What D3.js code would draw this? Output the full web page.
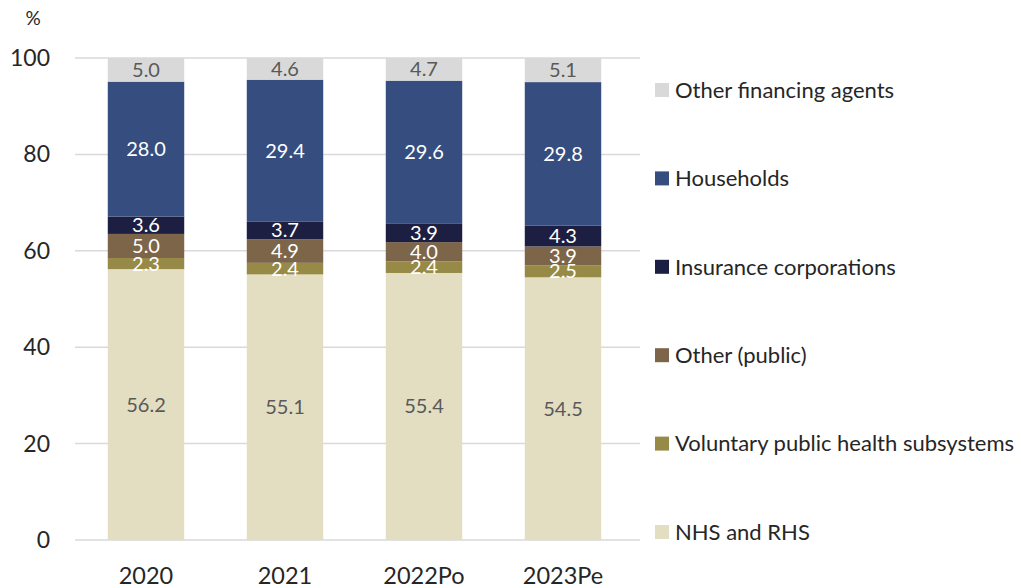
<!DOCTYPE html>
<html><head><meta charset="utf-8">
<script src="https://cdn.jsdelivr.net/npm/d3@7"></script>
<style>body{margin:0;background:#fff}svg text{font-family:Lato,"Open Sans",sans-serif}</style>
</head><body><svg id="c" width="1021" height="588"></svg>
<script>
const categories = ["2020","2021","2022Po","2023Pe"];
const seriesNames = ["NHS and RHS","Voluntary public health subsystems","Other (public)","Insurance corporations","Households","Other financing agents"];
const nhs = [56.2,55.1,55.4,54.5];
const voluntary = [2.3,2.4,2.4,2.5];
const otherPublic = [5.0,4.9,4.0,3.9];
const insurance = [3.6,3.7,3.9,4.3];
const households = [28.0,29.4,29.6,29.8];
const otherFin = [5.0,4.6,4.7,5.1];
const yTicks = [0,20,40,60,80,100];

const seriesValues = [nhs,voluntary,otherPublic,insurance,households,otherFin];
const colors = ["#e3dec1","#978a46","#7d6549","#1c1f42","#364d80","#d9d9d9"];
const labelColors = ["#595959","#ffffff","#ffffff","#ffffff","#ffffff","#595959"];

const svg = d3.select("#c");
const x = d3.scaleBand().domain(categories).range([76.5,632.5]).paddingInner(0.45).paddingOuter(0.225);
const y = d3.scaleLinear().domain([0,100]).range([540,58]);

// gridlines
svg.append("g").selectAll("line").data(yTicks).join("line")
  .attr("x1",75).attr("x2",640).attr("y1",d=>y(d)).attr("y2",d=>y(d))
  .attr("stroke","#d9d9d9").attr("stroke-width",1.5);

// y tick labels
svg.append("g").selectAll("text").data(yTicks).join("text")
  .attr("x",50).attr("y",d=>y(d)).attr("dy","0.35em").attr("text-anchor","end")
  .attr("font-size",23).attr("fill","#262626").text(d=>d);
svg.append("text").attr("x",33).attr("y",18).attr("dy","0.35em").attr("text-anchor","middle")
  .attr("font-size",19).attr("fill","#262626").text("%");

// stack
const rows = categories.map((c,i)=>{const o={cat:c}; seriesNames.forEach((s,j)=>o[s]=seriesValues[j][i]); return o;});
const stack = d3.stack().keys(seriesNames)(rows);

const g = svg.append("g");
stack.forEach((layer,j)=>{
  const lg = g.append("g");
  lg.selectAll("rect").data(layer).join("rect")
    .attr("x",d=>x(d.data.cat)).attr("width",x.bandwidth())
    .attr("y",d=>y(Math.min(d[1],100))).attr("height",d=>y(d[0])-y(Math.min(d[1],100)))
    .attr("fill",colors[j]);
});
stack.forEach((layer,j)=>{
  g.append("g").selectAll("text").data(layer).join("text")
    .attr("x",d=>x(d.data.cat)+x.bandwidth()/2)
    .attr("y",d=>y((d[0]+Math.min(d[1],100))/2)).attr("dy","0.35em")
    .attr("text-anchor","middle").attr("font-size",20).attr("fill",labelColors[j])
    .text(d=>(d[1]-d[0]).toFixed(1));
});

// x labels
svg.append("g").selectAll("text").data(categories).join("text")
  .attr("x",d=>x(d)+x.bandwidth()/2).attr("y",576).attr("dy","0.35em")
  .attr("text-anchor","middle").attr("font-size",23.5).attr("fill","#262626").text(d=>d);

// legend
const legendOrder = seriesNames.map((s,j)=>j).reverse();
const lg = svg.append("g");
legendOrder.forEach((j,k)=>{
  const cy = 90 + k*88.4;
  lg.append("rect").attr("x",655).attr("y",cy-7).attr("width",14).attr("height",14).attr("fill",colors[j]);
  lg.append("text").attr("x",675).attr("y",cy).attr("dy","0.35em").attr("font-size",22)
    .attr("fill","#262626").text(seriesNames[j]);
});
</script></body></html>
